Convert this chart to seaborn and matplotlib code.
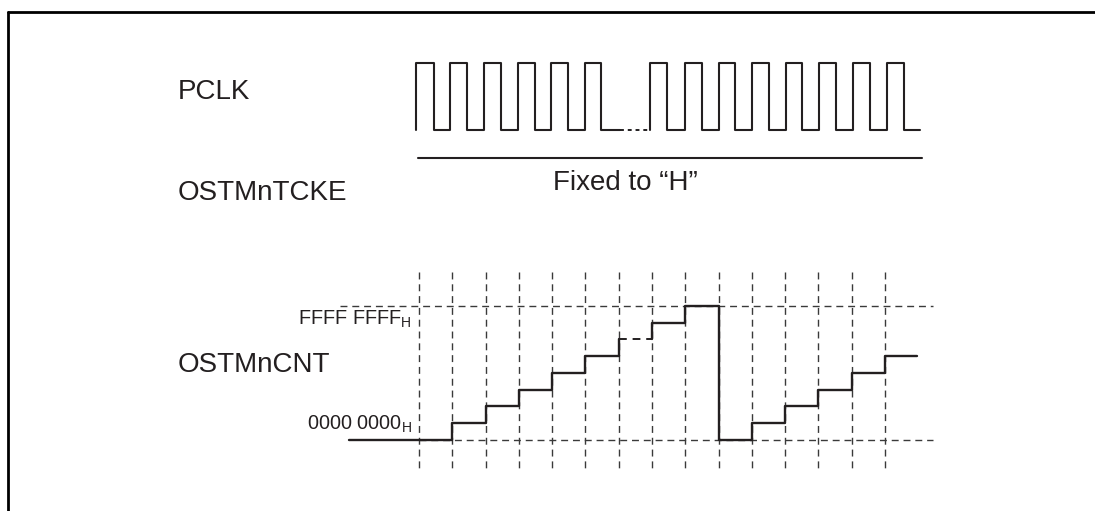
import matplotlib
matplotlib.use('Agg')
import matplotlib.pyplot as plt
import seaborn as sns
import pandas as pd

sns.set_theme(style='white')
plt.rcParams['font.family'] = ['Liberation Sans', 'DejaVu Sans']

# Signal names and texts
signal_names = ['PCLK', 'OSTMnTCKE', 'OSTMnCNT']
tcke_note = 'Fixed to \u201cH\u201d'
cnt_labels = [r'FFFF FFFF$_{\mathregular{H}}$', r'0000 0000$_{\mathregular{H}}$']

# PCLK edges (in clock periods, grid line 0 = first count edge)
pclk_rise = [-0.09, 0.93, 1.95, 2.97, 3.97, 4.99, 6.94, 7.99, 9.01, 10.0, 11.02, 12.02, 13.04, 14.06]
pclk_fall = [0.45, 1.44, 2.46, 3.47, 4.47, 5.47, 7.45, 8.49, 9.5, 10.5, 11.5, 12.52, 13.54, 14.57]
pclk_gap = [6.04, 6.94]     # dotted part of the clock
pclk_end = 15.05

# OSTMnTCKE fixed high
tcke_span = [-0.03, 15.1]

# OSTMnCNT counter: step times and count levels (8 = FFFF FFFF)
cnt_t = [-2.1, 1, 2, 3, 4, 5, 6, 7, 8, 9, 10, 11, 12, 13, 14, 14.95]
cnt_v = [0, 1, 2, 3, 4, 5, 6, 7, 8, 0, 1, 2, 3, 4, 5, 5]
dashed_step = 6             # index of the step drawn dashed
grid_t = list(range(0, 15))  # count edges (dashed verticals)
ref_span = [-2.37, 15.44]   # FFFF reference dashed line

# layout (pixels)
W, H = 1095, 511
px_per_t = 33.29
x0_px = 419
pclk_hi, pclk_lo = 63, 130
tcke_y = 158
cnt_y0, cnt_step = 440, 16.75
grid_top, grid_bot = 272, 472

fig = plt.figure(figsize=(W / 100, H / 100), dpi=100)
ax = fig.add_axes([0, 0, 1, 1])
ax.set_xlim(-x0_px / px_per_t, (W - x0_px) / px_per_t)
ax.set_ylim(H, 0)
ax.axis('off')

ink = '#231f20'
dash_col = '#3a3a3a'


def lvl(k):
    return cnt_y0 - cnt_step * k


def clock_df(rises, falls, start, end):
    xs, ys = [start], [pclk_lo]
    for r, f in zip(rises, falls):
        xs += [r, r, f, f]
        ys += [pclk_lo, pclk_hi, pclk_hi, pclk_lo]
    xs.append(end)
    ys.append(pclk_lo)
    return pd.DataFrame({'t': xs, 'y': ys})


# PCLK
n1 = 6
d1 = clock_df(pclk_rise[:n1], pclk_fall[:n1], pclk_rise[0], pclk_gap[0])
d2 = clock_df(pclk_rise[n1:], pclk_fall[n1:], pclk_gap[1], pclk_end)
for d in (d1, d2):
    sns.lineplot(data=d, x='t', y='y', sort=False, estimator=None, color=ink, lw=1.5, ax=ax)
ax.plot(pclk_gap, [pclk_lo, pclk_lo], color=ink, lw=1.4, ls=(0, (2, 2)))

# OSTMnTCKE
ax.plot(tcke_span, [tcke_y, tcke_y], color=ink, lw=1.5)

# dashed guides
for t in grid_t:
    ax.plot([t, t], [grid_top, grid_bot], color=dash_col, lw=1, ls=(0, (5, 3.5)))
ax.plot(ref_span, [lvl(max(cnt_v))] * 2, color=dash_col, lw=1, ls=(0, (5, 3.5)))
ax.plot([grid_t[0], ref_span[1]], [lvl(0)] * 2, color=dash_col, lw=1, ls=(0, (5, 3.5)))

# counter
c1 = pd.DataFrame({'t': cnt_t[:dashed_step + 1], 'y': [lvl(v) for v in cnt_v[:dashed_step + 1]]})
c2 = pd.DataFrame({'t': [cnt_t[dashed_step + 1]] + cnt_t[dashed_step + 1:],
                   'y': [lvl(cnt_v[dashed_step])] + [lvl(v) for v in cnt_v[dashed_step + 1:]]})
for c in (c1, c2):
    sns.lineplot(data=c, x='t', y='y', sort=False, estimator=None, drawstyle='steps-post',
                 color=ink, lw=1.7, ax=ax)
ax.plot(cnt_t[dashed_step:dashed_step + 2], [lvl(cnt_v[dashed_step])] * 2,
        color=ink, lw=1.4, ls=(0, (4, 3)))

# texts
lab_x = 178 / W
for name, y in zip(signal_names, [92, 193, 365]):
    fig.text(lab_x, 1 - y / H, name, fontsize=20, va='center', ha='left', color=ink)
fig.text(625 / W, 1 - 183 / H, tcke_note, fontsize=20, va='center', ha='center', color=ink)
fig.text(412 / W, 1 - 319 / H, cnt_labels[0], fontsize=14.3, va='center', ha='right', color=ink)
fig.text(412 / W, 1 - 424 / H, cnt_labels[1], fontsize=14.3, va='center', ha='right', color=ink)

# frame
fig.add_artist(plt.Line2D([8 / W, 1], [1 - 12 / H, 1 - 12 / H], color='black', lw=2))
fig.add_artist(plt.Line2D([8 / W, 8 / W], [1 - 12 / H, 0], color='black', lw=2))

fig.savefig('out.png', dpi=100)
